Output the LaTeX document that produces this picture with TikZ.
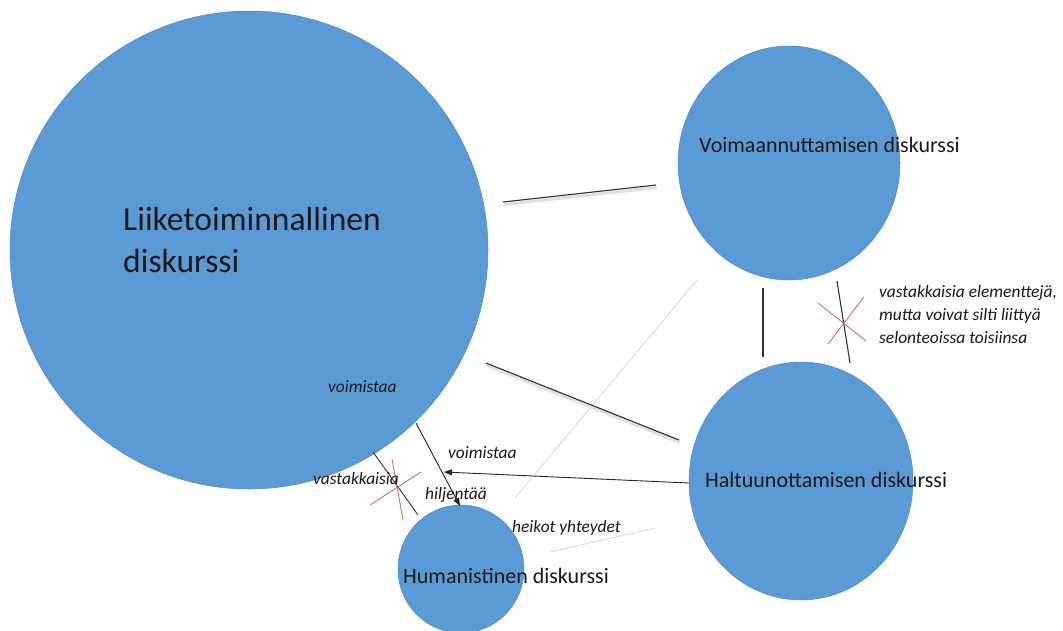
\documentclass[tikz,border=0pt]{standalone}
\usepackage{fontspec}
\setmainfont{Carlito}
\usetikzlibrary{shapes.geometric,arrows.meta}
\definecolor{disc}{HTML}{5B9BD5}
\definecolor{discedge}{HTML}{4F8BC4}
\definecolor{linedark}{HTML}{333333}
\definecolor{lineshadow}{HTML}{E0E0E0}
\definecolor{linelight}{HTML}{D2D2D2}
\definecolor{crossred}{HTML}{C86464}
\begin{document}
\begin{tikzpicture}[x=1pt,y=-1pt,
  discshape/.style={ellipse, fill=disc, draw=discedge, line width=0.5pt, inner sep=0},
  bigtitle/.style={font=\fontsize{33.6}{42}\selectfont, anchor=base west, inner sep=0, text=black!90},
  title/.style={font=\fontsize{22}{26}\selectfont, anchor=base west, inner sep=0, text=black!90},
  lab/.style={font=\fontsize{17.4}{21}\selectfont\itshape, anchor=base west, inner sep=0, text=black!90},
  link/.style={draw=linedark, line width=1.1pt},
  linkshadow/.style={draw=lineshadow, line width=3pt},
  weak/.style={draw=linelight, line width=0.7pt},
  cross/.style={draw=crossred, line width=0.8pt},
  arrowlink/.style={draw=black!85, line width=0.9pt, -{Triangle[length=8pt,width=6pt]}}
]
\useasboundingbox (0,0) rectangle (1063,630);
\fill[white] (0,0) rectangle (1063,630);

% discs
\node[discshape, minimum width=478pt, minimum height=478pt] (liik) at (249,250) {};
\node[discshape, minimum width=222pt, minimum height=234pt] (voim) at (789,163) {};
\node[discshape, minimum width=224pt, minimum height=238pt] (halt) at (801,481) {};
\node[discshape, minimum width=126pt, minimum height=128pt] (hum) at (461,569) {};

% endpoints
\coordinate (a1) at (503,202); \coordinate (a2) at (656,185);
\coordinate (b1) at (486,363); \coordinate (b2) at (679,440);
\coordinate (c1) at (763,288); \coordinate (c2) at (763,357);
\coordinate (d1) at (837,281); \coordinate (d2) at (850,363);
\coordinate (e1) at (373,452); \coordinate (e2) at (418,515);
\coordinate (w1) at (697,280); \coordinate (w2) at (515,498);
\coordinate (h1) at (550,552); \coordinate (h2) at (655,528);
\coordinate (s1) at (416,423); \coordinate (s2) at (460,506);
\coordinate (v1) at (689,483); \coordinate (v2) at (444,472);
\coordinate (rx1) at (818,303); \coordinate (rx2) at (866,341);
\coordinate (ry1) at (864,297); \coordinate (ry2) at (828,344);
\coordinate (lx1) at (392,459); \coordinate (lx2) at (403,520);
\coordinate (ly1) at (370,505); \coordinate (ly2) at (421,472);

% weak links
\draw[weak] (w1) -- (w2);
\draw[weak] (h1) -- (h2);

% shadows of links
\begin{scope}[transform canvas={shift={(1pt,-2.5pt)}}]
\draw[linkshadow] (a1) -- (a2);
\draw[linkshadow] (b1) -- (b2);
\end{scope}

% links
\draw[link] (a1) -- (a2);
\draw[link] (b1) -- (b2);
\draw[link] (c1) -- (c2);
\draw[link] (d1) -- (d2);
\draw[link, line width=0.9pt] (e1) -- (e2);

% crosses
\draw[cross] (rx1) -- (rx2);
\draw[cross] (ry1) -- (ry2);
\draw[cross] (lx1) -- (lx2);
\draw[cross] (ly1) -- (ly2);

% arrows
\draw[arrowlink] (s1) -- (s2);
\draw[arrowlink] (v1) -- (v2);

% texts
\node[bigtitle] (t1) at (123,230) {Liiketoiminnallinen};
\node[bigtitle] (t2) at (123,272) {diskurssi};
\node[title] (tv) at (699,152) {Voimaannuttamisen diskurssi};
\node[title] (th) at (705,487) {Haltuunottamisen diskurssi};
\node[title] (tm) at (403,583) {Humanistinen diskurssi};

\node[lab] (l1) at (328,392) {voimistaa};
\node[lab] (l2) at (448,458) {voimistaa};
\node[lab] (l3) at (313,484) {vastakkaisia};
\node[lab] (l4) at (425,499) {hiljentää};
\node[lab] (l5) at (512,532) {heikot yhteydet};
\node[lab] (l6) at (879,297) {vastakkaisia elementtejä,};
\node[lab] (l7) at (879,320) {mutta voivat silti liittyä};
\node[lab] (l8) at (879,343) {selonteoissa toisiinsa};
\end{tikzpicture}
\end{document}
